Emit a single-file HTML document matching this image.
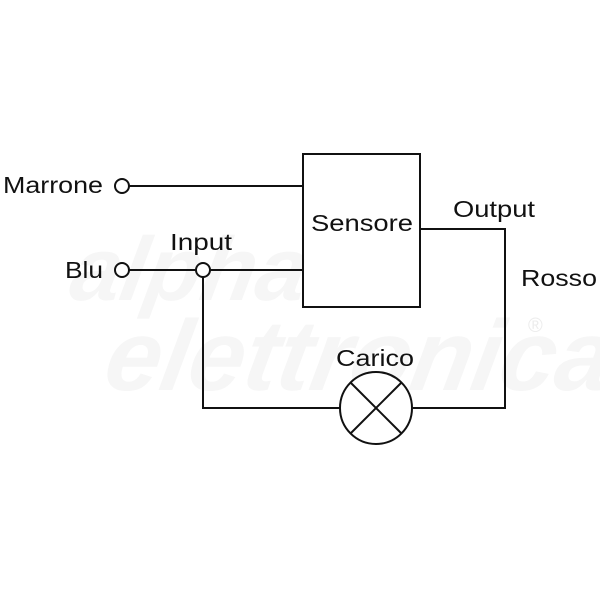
<!DOCTYPE html>
<html><head><style>body{margin:0;background:#fff}</style></head><body>
<svg width="600" height="600" viewBox="0 0 600 600" xmlns="http://www.w3.org/2000/svg" font-family="Liberation Sans, Arial, sans-serif">
<rect width="600" height="600" fill="#fff"/>
<g fill="#f6f6f6" font-weight="bold" font-style="italic" font-size="90">
<text x="120" y="300" transform="skewX(-10)">alpha</text>
<text x="170" y="390" transform="skewX(-10)" font-size="100">elettronica</text>
</g>
<text x="528" y="332" fill="#ececec" font-size="20">®</text>
<g stroke="#111" stroke-width="2" fill="none">
<rect x="303" y="154" width="117" height="153"/>
<line x1="129" y1="186" x2="303" y2="186"/>
<line x1="129" y1="270" x2="196" y2="270"/>
<line x1="210" y1="270" x2="303" y2="270"/>
<polyline points="203,277 203,408 340,408"/>
<polyline points="420,229 505,229 505,408 413,408"/>
<circle cx="122" cy="186" r="7" fill="#fff"/>
<circle cx="122" cy="270" r="7" fill="#fff"/>
<circle cx="203" cy="270" r="7" fill="#fff"/>
<circle cx="376" cy="408" r="36" fill="#fff"/>
<line x1="350.5" y1="382.5" x2="401.5" y2="433.5"/>
<line x1="401.5" y1="382.5" x2="350.5" y2="433.5"/>
</g>
<g fill="#111" font-size="23" lengthAdjust="spacingAndGlyphs">
<text x="3" y="193" textLength="100" lengthAdjust="spacingAndGlyphs">Marrone</text>
<text x="65" y="278" textLength="38" lengthAdjust="spacingAndGlyphs">Blu</text>
<text x="170" y="250" textLength="62" lengthAdjust="spacingAndGlyphs">Input</text>
<text x="311" y="231" textLength="102" lengthAdjust="spacingAndGlyphs">Sensore</text>
<text x="453" y="217" textLength="82" lengthAdjust="spacingAndGlyphs">Output</text>
<text x="521" y="286" textLength="76" lengthAdjust="spacingAndGlyphs">Rosso</text>
<text x="336" y="366" textLength="78" lengthAdjust="spacingAndGlyphs">Carico</text>
</g>
</svg>
</body></html>
